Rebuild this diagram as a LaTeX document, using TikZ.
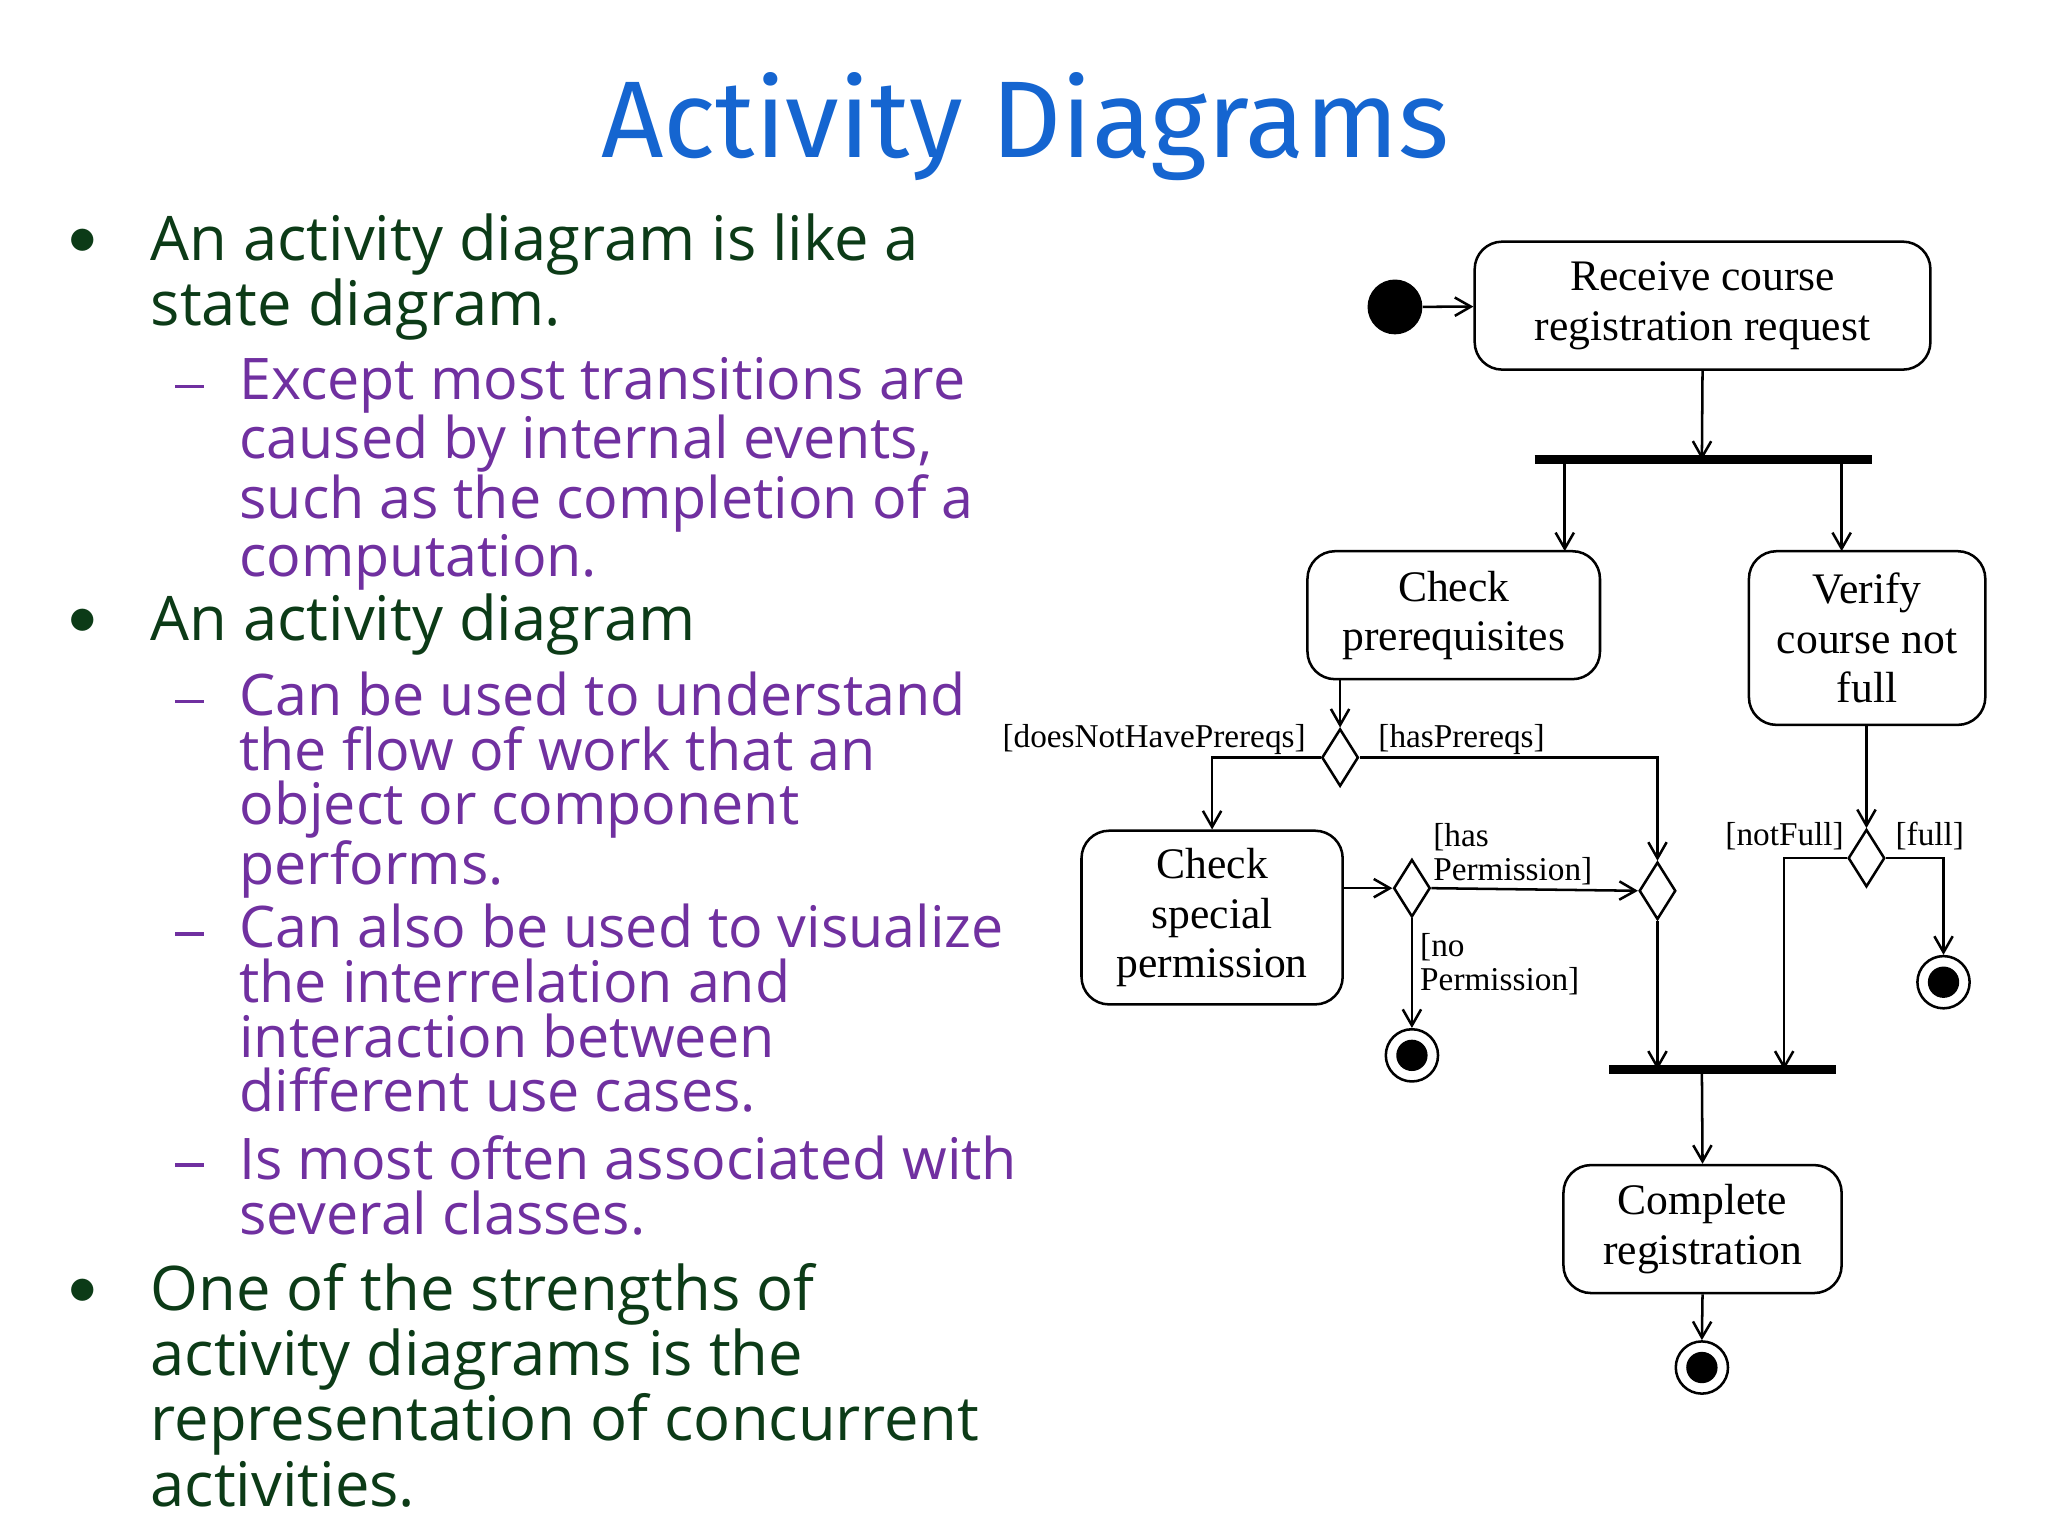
\documentclass[tikz,border=0pt]{standalone}
\usepackage{fontspec}
\setmainfont{Liberation Serif}
\newfontfamily\bodyf{Open Sans}
\newfontfamily\titlef{Fira Sans}
\usetikzlibrary{arrows.meta,shapes.geometric}
\definecolor{tblue}{HTML}{1565D0}
\definecolor{bgreen}{HTML}{0C3B17}
\definecolor{bpurple}{HTML}{7030A0}
\begin{document}
\begin{tikzpicture}[x=0.02cm,y=-0.02cm,
  b1/.style={font=\bodyf\fontsize{26.8}{28.4}\selectfont,text=bgreen,align=left,anchor=north west,inner sep=0},
  b2/.style={font=\bodyf\fontsize{25}{23.8}\selectfont,text=bpurple,align=left,anchor=north west,inner sep=0},
  dot/.style={text=bgreen,font=\fontsize{30}{30}\selectfont},
  dsh/.style={text=bpurple,inner sep=0},
  act/.style={draw,line width=1.1pt,rounded corners=12pt,font=\fontsize{19}{21.5}\selectfont,align=center,inner sep=0},
  dec/.style={draw,line width=1.1pt,diamond,minimum width=0.56cm,minimum height=0.88cm,inner sep=0,aspect=0.63},
  bar/.style={line width=4pt},
  arr/.style={line width=1.1pt,-{Straight Barb[length=7pt,width=8pt]}},
  grd/.style={font=\fontsize{14.5}{15}\selectfont,inner sep=0,align=left},
  fin/.style={circle,draw,line width=1.1pt,minimum size=0.8cm,inner sep=0,path picture={\fill (path picture bounding box.center) circle (0.24cm);}}
]
\useasboundingbox (0,0) rectangle (1568,1176);
\fill[white] (0,0) rectangle (1568,1176);
\node[text=tblue,font=\titlef\fontsize{47.5}{52}\selectfont] (title) at (785,97) {Activity Diagrams};

\node[dot] (d1) at (63,185) {$\bullet$};
\node[b1] (t1) at (115,163) {An activity diagram is like a\\state diagram.};
\node[dsh] (s1) at (145,296) {\rule{0.44cm}{1.6pt}};
\node[b2] (u1) at (183,273) {Except most transitions are\\caused by internal events,\\such as the completion of a\\computation.};
\node[dot] (d2) at (63,476) {$\bullet$};
\node[b1] (t2) at (115,454) {An activity diagram};
\node[dsh] (s2) at (145,537) {\rule{0.44cm}{1.6pt}};
\node[b2] (u2) at (183,514) {Can be used to understand\\the flow of work that an\\object or component\\performs.};
\node[dsh] (s3) at (145,715) {\rule{0.44cm}{1.6pt}};
\node[b2] (u3) at (183,692) {Can also be used to visualize\\the interrelation and\\interaction between\\different use cases.};
\node[dsh] (s4) at (145,892) {\rule{0.44cm}{1.6pt}};
\node[b2] (u4) at (183,869) {Is most often associated with\\several classes.};
\node[dot] (d3) at (63,989) {$\bullet$};
\node[b1] (t3) at (115,967) {One of the strengths of\\activity diagrams is the\\representation of concurrent\\activities.};

% diagram
\node[circle,fill,minimum size=0.84cm,inner sep=0] (init) at (1068,235) {};
\node[act,minimum width=6.98cm,minimum height=1.96cm] (recv) at (1303.5,234) {Receive course\\registration request};
\draw[arr] (init) -- (recv);
\coordinate (f1l) at (1175,352); \coordinate (f1r) at (1433,352);
\draw[bar] (f1l) -- (f1r);
\coordinate (f1a) at (1303,352);
\draw[arr] (recv.south) -- (f1a);
\node[act,minimum width=4.48cm,minimum height=1.96cm] (prq) at (1113,471) {Check\\prerequisites};
\node[act,minimum width=3.62cm,minimum height=2.66cm] (ver) at (1429.5,488.5) {Verify\\course not\\full};
\draw[arr] (1198,352) -- (1198,422);
\draw[arr] (1410,352) -- (1410,422);
\node[dec] (dc1) at (1026,580) {};
\draw[arr] (1026,520) -- (dc1.north);
\node[grd,anchor=east] (g1) at (1000,566) {[doesNotHavePrereqs]};
\node[grd,anchor=west] (g2) at (1055,566) {[hasPrereqs]};
\node[act,minimum width=4cm,minimum height=2.66cm] (spc) at (928,702.5) {Check\\special\\permission};
\draw[arr] (dc1.west) -| (spc.north);
\node[dec] (dc3) at (1269,682) {};
\draw[arr] (dc1.east) -| (dc3.north);
\node[dec] (dc2) at (1081,680) {};
\draw[arr] (spc.east |- dc2) -- (dc2.west);
\draw[arr] (dc2.east) -- (dc3.west);
\node[grd,anchor=west] (g3) at (1097,654) {[has\\Permission]};
\node[fin] (fin1) at (1081,808) {};
\draw[arr] (dc2.south) -- (fin1.north);
\node[grd,anchor=west] (g4) at (1087,738) {[no\\Permission]};
\coordinate (j1l) at (1232,819); \coordinate (j1r) at (1406,819);
\draw[bar] (j1l) -- (j1r);
\draw[arr] (dc3.south) -- (1269,819);
\node[dec] (dc4) at (1429,657) {};
\draw[arr] (1429,555) -- (dc4.north);
\node[grd,anchor=east] (g5) at (1412,640) {[notFull]};
\node[grd,anchor=west] (g6) at (1451,640) {[full]};
\coordinate (jn) at (1366,819);
\draw[arr] (dc4.west) -| (jn);
\node[fin] (fin2) at (1488,752) {};
\draw[arr] (dc4.east) -| (fin2.north);
\node[act,minimum width=4.26cm,minimum height=1.96cm] (cmp) at (1303.5,941) {Complete\\registration};
\draw[arr] (1303,819) -- (cmp.north);
\node[fin] (fin3) at (1303,1047) {};
\draw[arr] (cmp.south) -- (fin3.north);
\end{tikzpicture}
\end{document}
